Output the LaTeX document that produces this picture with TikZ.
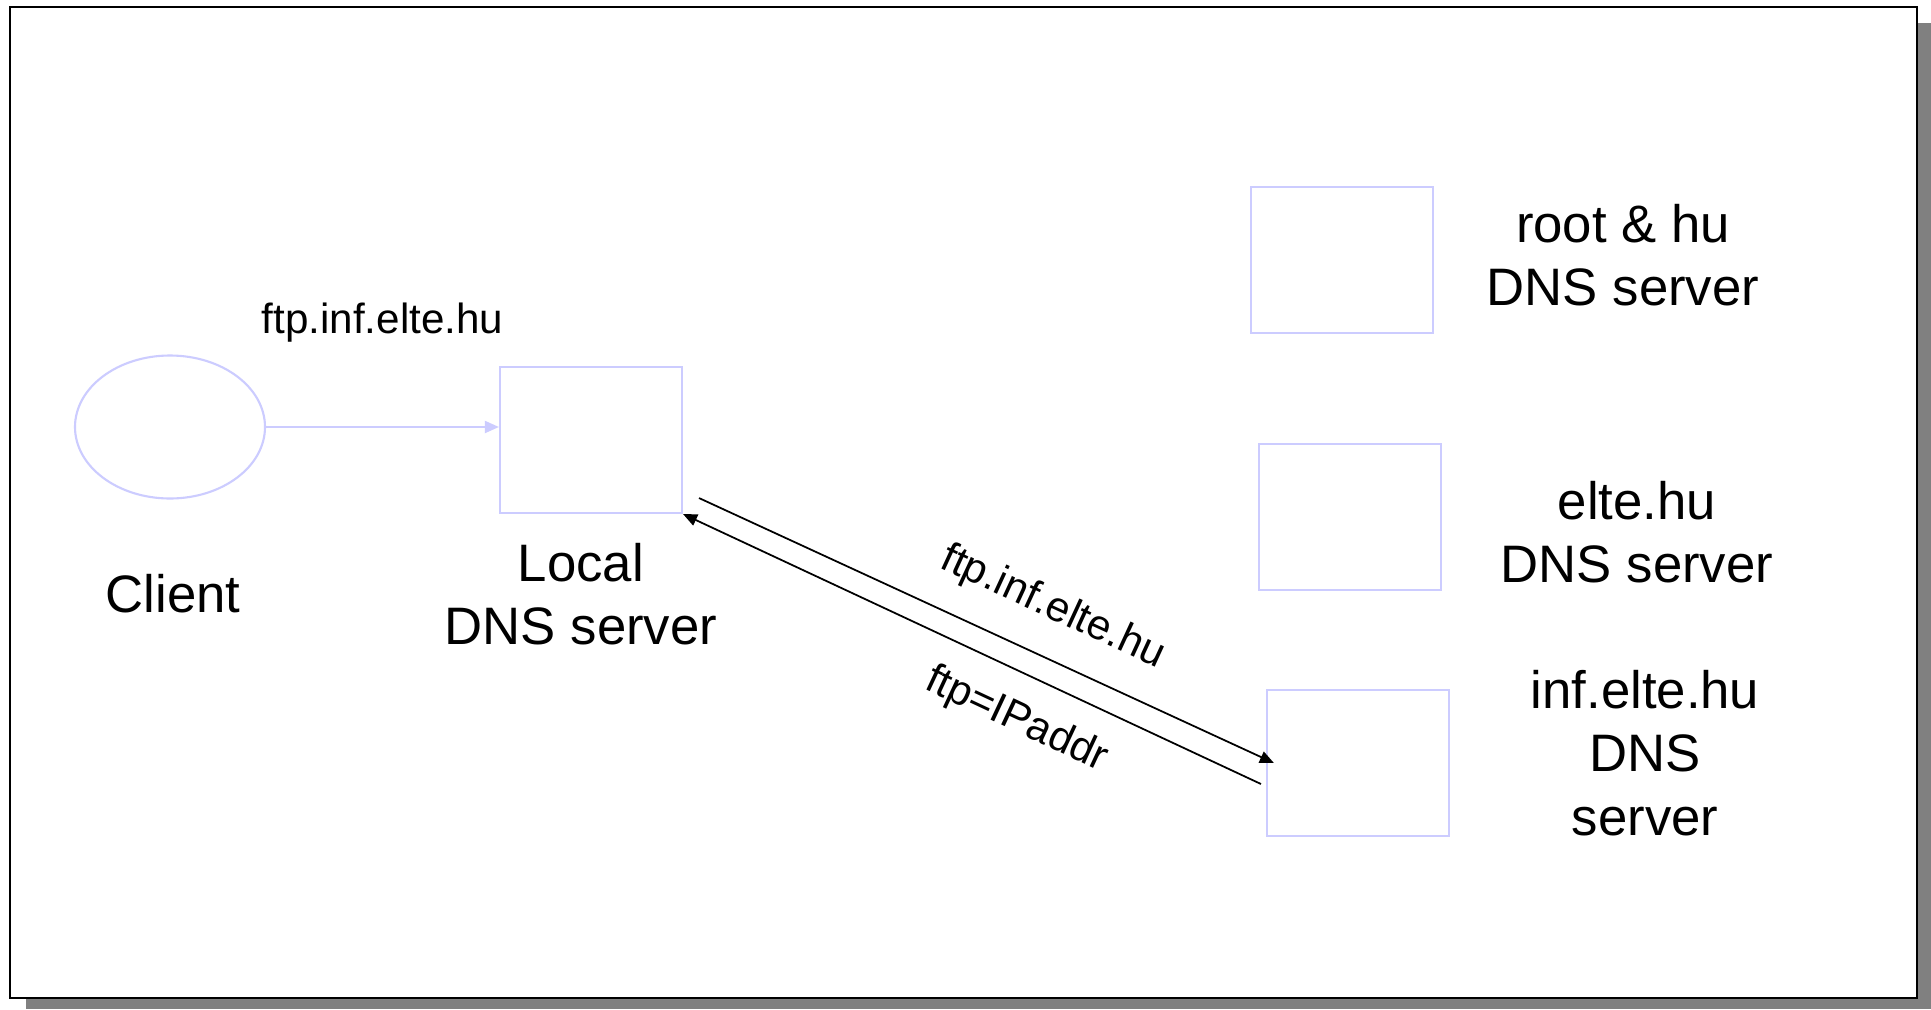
\documentclass[tikz,border=0pt]{standalone}
\usepackage{fontspec}
\setmainfont{Liberation Sans}
\usetikzlibrary{shapes.geometric,positioning,arrows.meta}
\definecolor{srvblue}{RGB}{204,204,255}

\begin{document}
\begin{tikzpicture}[>={Triangle[length=4pt,width=3.4pt]},node distance=2cm,on grid,
	server/.style={draw=srvblue, line width=0.6pt, minimum width=1.82cm, minimum height=1.46cm},
	host/.style={ellipse, draw=srvblue, line width=0.6pt, minimum width=1.90cm, minimum height=1.43cm},
	big/.style={font=\fontsize{15}{18}\selectfont, align=center},
	small/.style={font=\fontsize{12}{14}\selectfont}]
	\useasboundingbox (0,0) rectangle (19.31,10.09);
	\fill[gray] (0.26,0) rectangle (19.31,9.86);
	\draw[fill=white, line width=0.6pt] (0.10,0.11) rectangle (19.17,10.02);

	\node[host] (client) at (1.70,5.82) {};
	\node[server] (local) at (5.91,5.69) {};
	\node[server] (root) at (13.42,7.49) {};
	\node[server] (elte) at (13.50,4.92) {};
	\node[server] (inf) at (13.58,2.46) {};

	\node[big] (client_txt) [below=1.67cm of client, xshift=0.03cm] {Client};
	\node[big] (local_txt) [below=1.54cm of local, xshift=-0.10cm] {Local\\DNS server};
	\node[big] (root_txt) [right=2.81cm of root, yshift=0.05cm] {root \& hu\\DNS server};
	\node[big] (elte_txt) [right=2.87cm of elte, yshift=-0.15cm] {elte.hu\\DNS server};
	\node[big] (inf_txt) [right=2.87cm of inf, yshift=0.10cm] {inf.elte.hu\\DNS\\server};

	\draw[->, srvblue, line width=0.6pt] (client.east) -- node[small, black, above=0.72cm] {ftp.inf.elte.hu} (client.east -| local.west);
	\draw[->, line width=0.5pt] ([shift={(0.16,0.16)}]local.south east)
		-- node[small, sloped, above, pos=0.58, outer sep=0.17cm] {ftp.inf.elte.hu} ([xshift=0.08cm]inf.west);
	\draw[->, line width=0.5pt] ([shift={(-0.05,-0.21)}]inf.west)
		-- node[small, sloped, below, pos=0.39, outer sep=0.14cm] {ftp=IPaddr} (local.south east);
\end{tikzpicture}
\end{document}
